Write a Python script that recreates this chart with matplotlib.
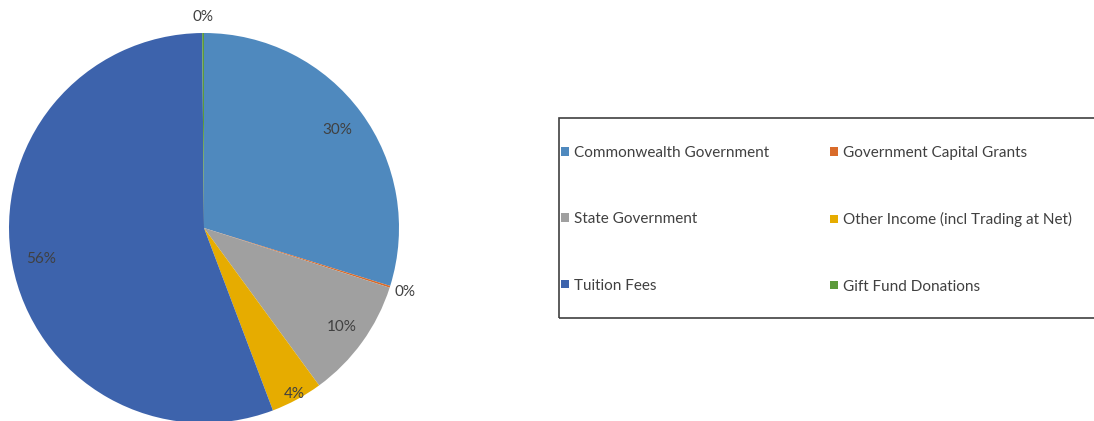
import matplotlib.pyplot as plt
from matplotlib.patches import Patch, Rectangle
import numpy as np

plt.rcParams['font.family'] = ['Lato', 'DejaVu Sans']

# data (share of income, %)
labels = ['Commonwealth Government', 'Government Capital Grants', 'State Government',
          'Other Income (incl Trading at Net)', 'Tuition Fees', 'Gift Fund Donations']
values = [29.8, 0.15, 10.0, 4.3, 55.6, 0.15]
colors = ['#4F89BE', '#D96B2A', '#A0A0A0', '#E6AC00', '#3D63AC', '#5C9A3A']
# how far out each percent label sits (fraction of radius)
label_dist = [0.85, 1.08, 0.87, 0.97, 0.85, 1.08]

fig = plt.figure(figsize=(10.94, 4.21), dpi=100)
ax = fig.add_axes([9/1094, -2/421, 390/1094, 390/421])

wedges, _ = ax.pie(values, colors=colors, startangle=90, counterclock=False,
                   radius=1, wedgeprops=dict(linewidth=0))
total = sum(values)
for w, v, d in zip(wedges, values, label_dist):
    ang = np.deg2rad((w.theta1 + w.theta2) / 2)
    ax.text(d*np.cos(ang), d*np.sin(ang), f'{v/total*100:.0f}%',
            ha='center', va='center', fontsize=11, color='#404040')
ax.set_xlim(-1, 1)
ax.set_ylim(-1, 1)

# legend frame (runs off the right edge like the original)
fig.patches.append(Rectangle((559/1094, 1-318/421), 600/1094, 200/421,
                             transform=fig.transFigure, fill=False,
                             edgecolor='#404040', linewidth=1.2))

# matplotlib fills legend columns first, reorder so rows read across
order = [0, 2, 4, 1, 3, 5]
handles = [Patch(facecolor=colors[i], edgecolor='none') for i in order]
fig.legend(handles, [labels[i] for i in order], ncol=2, loc='upper left',
           bbox_to_anchor=(561/1094, 1-146/421), frameon=False,
           fontsize=11, borderpad=0, borderaxespad=0,
           handlelength=0.5, handleheight=0.5, handletextpad=0.35,
           labelspacing=3.42, columnspacing=4.0, labelcolor='#404040')

fig.savefig('out.png', dpi=100)
